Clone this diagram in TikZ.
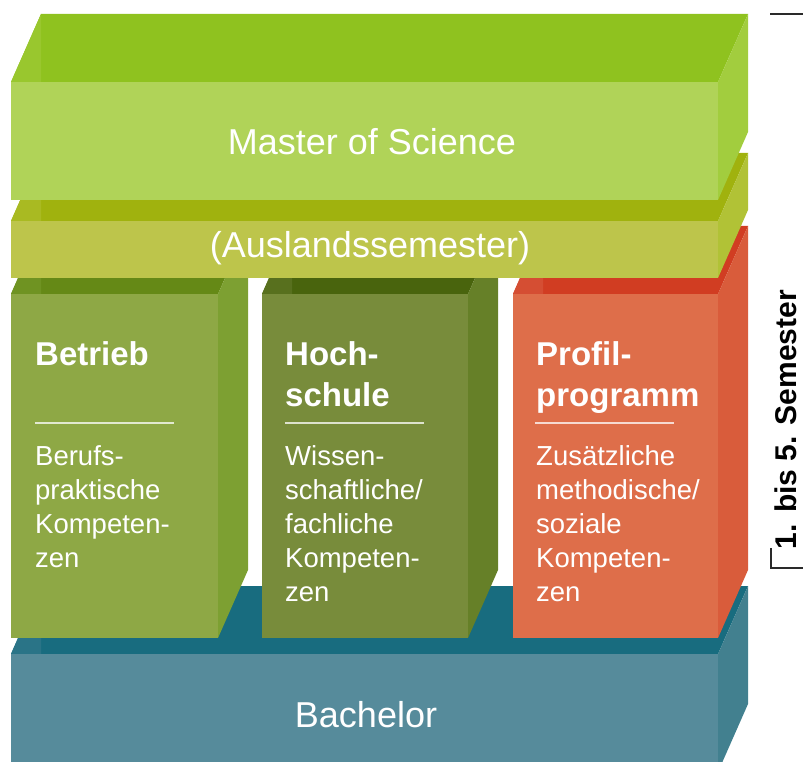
\documentclass[tikz,border=0pt]{standalone}
\usepackage{fontspec}
\setmainfont{Liberation Sans}
\usepackage{tikz}

\definecolor{mastertop}{HTML}{8FC21F}
\definecolor{masterfront}{HTML}{B0D358}
\definecolor{masterside}{HTML}{A2CD3E}
\definecolor{masterleft}{HTML}{99C72E}
\definecolor{auslandtop}{HTML}{A0B20E}
\definecolor{auslandfront}{HTML}{BDC54B}
\definecolor{auslandside}{HTML}{B1C236}
\definecolor{auslandleft}{HTML}{A9BA22}
\definecolor{betriebtop}{HTML}{658916}
\definecolor{betriebfront}{HTML}{8EA845}
\definecolor{betriebside}{HTML}{7DA032}
\definecolor{betriebleft}{HTML}{6F9322}
\definecolor{hochtop}{HTML}{49640D}
\definecolor{hochfront}{HTML}{788C3B}
\definecolor{hochside}{HTML}{668028}
\definecolor{hochleft}{HTML}{58701E}
\definecolor{profiltop}{HTML}{D13D22}
\definecolor{profilfront}{HTML}{DE6E4A}
\definecolor{profilside}{HTML}{D95C3B}
\definecolor{profilleft}{HTML}{D54E33}
\definecolor{bachtop}{HTML}{186C7F}
\definecolor{bachfront}{HTML}{568B9B}
\definecolor{bachside}{HTML}{42808F}
\definecolor{bachleft}{HTML}{2A7487}
\definecolor{ticks}{HTML}{2A2A2A}

\tikzset{
	layertext/.style={text=white, inner sep=0, anchor=base, font=\fontsize{36}{43}\selectfont},
	headtext/.style={text=white, inner sep=0, anchor=base west, font=\fontsize{33}{41}\selectfont\bfseries},
	bodytext/.style={text=white, inner sep=0, anchor=base west, font=\fontsize{27.5}{34}\selectfont},
	rule/.style={white, opacity=0.75, line width=1.5pt}
}

\begin{document}
\begin{tikzpicture}[x=1pt,y=-1pt]
	\useasboundingbox (0,0) rectangle (803,762);
	\clip (0,0) rectangle (803,762);
	% Bachelor
	\fill[bachtop] (11,654)--(41,586)--(748,586)--(718,654)--cycle;
	\fill[bachleft] (11,654)--(41,586)--(41,654)--cycle;
	\fill[bachside] (718,654)--(748,586)--(748,704)--(718,772)--cycle;
	\fill[bachfront] (11,654) rectangle (718,772);
	% Betrieb
	\fill[betriebtop] (11,294)--(41,226)--(248,226)--(218,294)--cycle;
	\fill[betriebleft] (11,294)--(41,226)--(41,294)--cycle;
	\fill[betriebside] (218,294)--(248,226)--(248,570)--(218,638)--cycle;
	\fill[betriebfront] (11,294) rectangle (218,638);
	% Hochschule
	\fill[hochtop] (262,294)--(292,226)--(498,226)--(468,294)--cycle;
	\fill[hochleft] (262,294)--(292,226)--(292,294)--cycle;
	\fill[hochside] (468,294)--(498,226)--(498,570)--(468,638)--cycle;
	\fill[hochfront] (262,294) rectangle (468,638);
	% Profilprogramm
	\fill[profiltop] (513,294)--(543,226)--(748,226)--(718,294)--cycle;
	\fill[profilleft] (513,294)--(543,226)--(543,294)--cycle;
	\fill[profilside] (718,294)--(748,226)--(748,570)--(718,638)--cycle;
	\fill[profilfront] (513,294) rectangle (718,638);
	% Auslandssemester
	\fill[auslandtop] (11,221)--(41,153)--(748,153)--(718,221)--cycle;
	\fill[auslandleft] (11,221)--(41,153)--(41,221)--cycle;
	\fill[auslandside] (718,221)--(748,153)--(748,210)--(718,278)--cycle;
	\fill[auslandfront] (11,221) rectangle (718,278);
	% Master
	\fill[mastertop] (11,82)--(41,14)--(748,14)--(718,82)--cycle;
	\fill[masterleft] (11,82)--(41,14)--(41,82)--cycle;
	\fill[masterside] (718,82)--(748,14)--(748,132)--(718,200)--cycle;
	\fill[masterfront] (11,82) rectangle (718,200);

	% layer labels
	\node[layertext] (master) at (372,155) {Master of Science};
	\node[layertext] (ausland) at (370,258) {(Auslandssemester)};
	\node[layertext] (bachelor) at (366,727) {Bachelor};

	% columns
	\node[headtext] (betrieb) at (35,365) {\begin{tabular}[t]{@{}l@{}}Betrieb\end{tabular}};
	\node[headtext] (hochschule) at (285,365) {\begin{tabular}[t]{@{}l@{}}Hoch-\\schule\end{tabular}};
	\node[headtext] (profil) at (536,365) {\begin{tabular}[t]{@{}l@{}}Profil-\\programm\end{tabular}};
	\draw[rule] (35,423)--(174,423);
	\draw[rule] (285,423)--(424,423);
	\draw[rule] (535,423)--(674,423);
	\node[bodytext] (berufs) at (35,465) {\begin{tabular}[t]{@{}l@{}}Berufs-\\praktische\\Kompeten-\\zen\end{tabular}};
	\node[bodytext] (wissen) at (285,465) {\begin{tabular}[t]{@{}l@{}}Wissen-\\schaftliche/\\fachliche\\Kompeten-\\zen\end{tabular}};
	\node[bodytext] (zusatz) at (536,465) {\begin{tabular}[t]{@{}l@{}}Zusätzliche\\methodische/\\soziale\\Kompeten-\\zen\end{tabular}};

	% semester bracket
	\draw[ticks, line width=2pt] (770,14.5)--(803,14.5);
	\draw[ticks, line width=2pt] (770,568)--(803,568);
	\draw[ticks, line width=2pt] (771,548)--(771,569);
	\node[rotate=90, anchor=base, inner sep=0, font=\fontsize{30}{36}\selectfont\bfseries] (semester) at (796.5,419.5) {1. bis 5. Semester};
\end{tikzpicture}
\end{document}
